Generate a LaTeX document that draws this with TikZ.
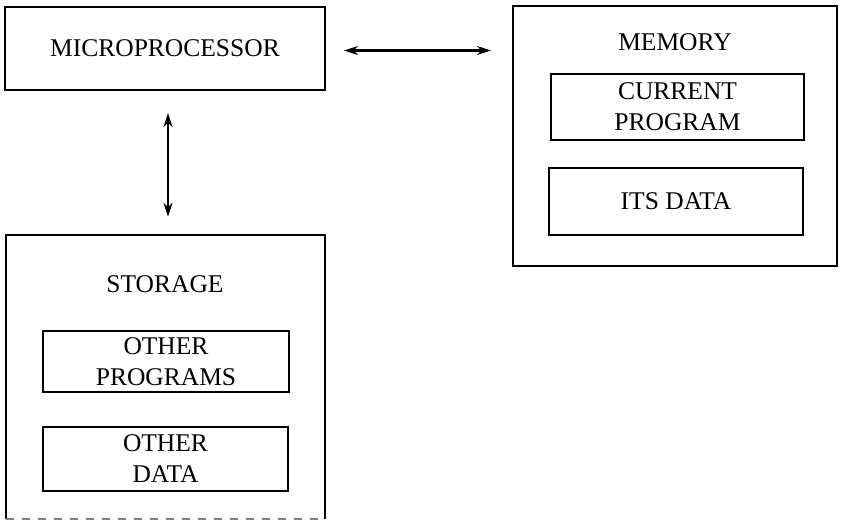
\documentclass[tikz,border=0pt]{standalone}
\usepackage{fontspec}
\setmainfont{Liberation Serif}
\usetikzlibrary{positioning,arrows.meta}
\tikzset{>={Stealth[length=14pt,width=9pt]}}
\newcommand*{\lbl}[1]{\fontsize{25.5}{31}\selectfont #1}

\begin{document}
\begin{tikzpicture}[x=1pt,y=-1pt,
  box/.style={draw,line width=2pt,inner sep=0pt,align=center,font=\lbl},
  link/.style={<->,line width=2.6pt}]
\useasboundingbox (0,0) rectangle (841,522);
% processor
\node[box,minimum width=320pt,minimum height=83pt] (micro) at (165,48.5) {MICROPROCESSOR};
% memory and what it holds
\node[box,minimum width=324pt,minimum height=260pt] (memory) at (675,136) {};
\node[font=\lbl] (memlbl) at (675,42) {MEMORY};
\node[box,minimum width=253pt,minimum height=66pt] (curprog) at (677.5,107) {CURRENT\\PROGRAM};
\node[box,minimum width=254pt,minimum height=67pt] (itsdata) at (676,201.5) {ITS DATA};
% storage, cut off at the bottom
\node[minimum width=319pt,minimum height=284pt] (storage) at (165.5,377) {};
\draw[line width=2pt] (storage.south west) -- (storage.north west) -- (storage.north east) -- (storage.south east);
\draw[line width=1.6pt,gray,dash pattern=on 8pt off 8pt] (storage.south west) -- (storage.south east);
\node[font=\lbl] (storlbl) at (165,284) {STORAGE};
\node[box,minimum width=246pt,minimum height=61pt] (otherprog) at (166,361.5) {OTHER\\PROGRAMS};
\node[box,minimum width=245pt,minimum height=64pt] (otherdata) at (165.5,459) {OTHER\\DATA};
% connections
\draw[link,shorten <=18pt,shorten >=21pt] ([yshift=-2pt]micro.east) -- ([yshift=-2pt]micro.east -| memory.west);
\draw[link,shorten <=22pt,shorten >=18pt] ([xshift=3pt]micro.south) -- ([xshift=3pt]micro.south |- storage.north);
\end{tikzpicture}
\end{document}
